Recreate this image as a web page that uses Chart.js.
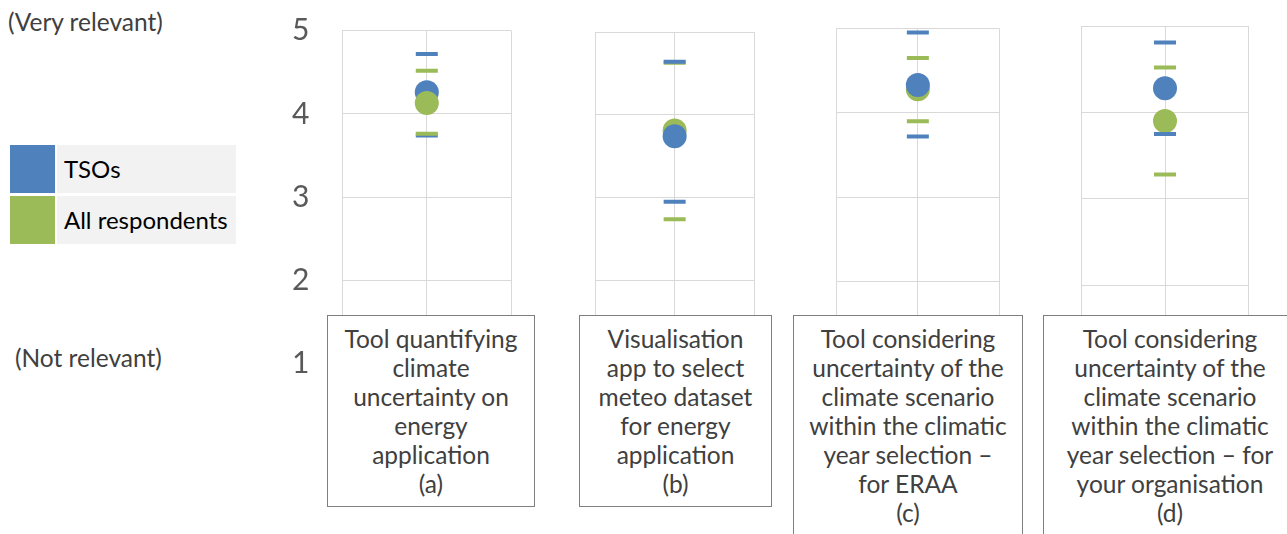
<!DOCTYPE html>
<html>
<head>
<meta charset="utf-8">
<script src="https://cdn.jsdelivr.net/npm/chart.js@4/dist/chart.umd.min.js"></script>
<style>
  html, body { margin: 0; padding: 0; background: #ffffff; }
  #stage { position: relative; width: 1287px; height: 534px; overflow: hidden; font-family: Lato, "Open Sans", sans-serif; }
  #stage canvas { position: absolute; left: 0; top: 0; }
  .side { position: absolute; color: #404040; font-size: 24.5px; line-height: 28px; white-space: nowrap; }
  .catbox { position: absolute; box-sizing: border-box; border: 1.5px solid #7f7f7f; background: #ffffff;
            color: #404040; font-size: 24.5px; line-height: 29px; text-align: center; padding-top: 8px; z-index: 5;
            white-space: nowrap; }
  .legend-row { position: absolute; left: 10px; width: 226px; height: 48px; }
  .legend-row .sw { position: absolute; left: 0; top: 0; width: 45px; height: 100%; }
  .legend-row .lbl { position: absolute; left: 47px; top: 0; right: 0; height: 100%; background: #f2f2f2;
                     color: #000000; font-size: 24px; line-height: 48px; padding-left: 7px; box-sizing: border-box; }
</style>
</head>
<body>
<div id="stage"></div>
<script>
// Survey scores (1 = not relevant, 5 = very relevant): mean with upper/lower bounds
const categories = [
  ['Tool quantifying', 'climate', 'uncertainty on', 'energy', 'application', '(a)'],
  ['Visualisation', 'app to select', 'meteo dataset', 'for energy', 'application', '(b)'],
  ['Tool considering', 'uncertainty of the', 'climate scenario', 'within the climatic', 'year selection \u2013', 'for ERAA', '(c)'],
  ['Tool considering', 'uncertainty of the', 'climate scenario', 'within the climatic', 'year selection \u2013 for', 'your organisation', '(d)']
];
const seriesNames = ['TSOs', 'All respondents'];
const tsoMean = [4.26, 3.74, 4.33, 4.28];
const tsoHigh = [4.72, 4.64, 4.95, 4.81];
const tsoLow  = [3.74, 2.95, 3.72, 3.75];
const allMean = [4.13, 3.81, 4.28, 3.90];
const allHigh = [4.52, 4.63, 4.65, 4.52];
const allLow  = [3.76, 2.74, 3.90, 3.28];
const yTicks = [1, 2, 3, 4, 5];
const sideLabels = ['(Very relevant)', '(Not relevant)'];

// Layout of each small panel (plot frame in page pixels) and its caption box
const W = 1287, H = 534;
const frames = [
  { left: 342.3, right: 511.3, top: 30.7, bottom: 363.5 },
  { left: 595.3, right: 754.0, top: 32.0, bottom: 363.2 },
  { left: 836.7, right: 999.0, top: 28.3, bottom: 366.3 },
  { left: 1081.7, right: 1248.3, top: 26.0, bottom: 371.6 }
];
const boxes = [
  { left: 327.3, top: 315.3, width: 207.4, height: 191.4 },
  { left: 579.3, top: 315.3, width: 192.4, height: 191.4 },
  { left: 792.7, top: 315.3, width: 230.6, height: 240 },
  { left: 1043.3, top: 315.3, width: 253.4, height: 240 }
];
// which series is painted on top in each panel
const topSeries = [1, 0, 0, 0];

const BLUE = '#4f81bd', GREEN = '#9bbb59', GRID = '#d9d9d9';
const stage = document.getElementById('stage');

sideLabels.forEach((t, i) => {
  const d = document.createElement('div');
  d.className = 'side';
  d.textContent = t;
  d.style.left = (i === 0 ? 8 : 15) + 'px';
  d.style.top = (i === 0 ? 8 : 344) + 'px';
  stage.appendChild(d);
});

[BLUE, GREEN].forEach((c, i) => {
  const row = document.createElement('div');
  row.className = 'legend-row';
  row.style.top = (145 + i * 51) + 'px';
  row.innerHTML = '<div class="sw"></div><div class="lbl"></div>';
  row.querySelector('.sw').style.background = c;
  row.querySelector('.lbl').textContent = seriesNames[i];
  stage.appendChild(row);
});

function meanSet(label, v, color, order) {
  return { label, data: [{ x: 1, y: v }], order, pointStyle: 'circle', pointRadius: 12,
           backgroundColor: color, borderColor: color, borderWidth: 0, showLine: false };
}
function boundSet(label, v, color, order) {
  return { label, data: [{ x: 1, y: v }], order, pointStyle: 'line', pointRadius: 11, pointRotation: 0,
           backgroundColor: color, borderColor: color, borderWidth: 4, showLine: false };
}

frames.forEach((f, i) => {
  const canvas = document.createElement('canvas');
  canvas.width = W; canvas.height = H;
  canvas.style.width = W + 'px'; canvas.style.height = H + 'px';
  stage.appendChild(canvas);
  const withTicks = i === 0;
  const axisW = withTicks ? 62.3 : 0;
  const oT = topSeries[i] === 0 ? 0 : 10;   // lower order is drawn last (on top)
  const oA = topSeries[i] === 1 ? 0 : 10;
  new Chart(canvas, {
    type: 'scatter',
    data: {
      datasets: [
        meanSet(seriesNames[0], tsoMean[i], BLUE, oT),
        boundSet(seriesNames[0] + ' high', tsoHigh[i], BLUE, oT + 1),
        boundSet(seriesNames[0] + ' low', tsoLow[i], BLUE, oT + 1),
        meanSet(seriesNames[1], allMean[i], GREEN, oA),
        boundSet(seriesNames[1] + ' high', allHigh[i], GREEN, oA + 1),
        boundSet(seriesNames[1] + ' low', allLow[i], GREEN, oA + 1)
      ]
    },
    options: {
      responsive: false,
      animation: false,
      devicePixelRatio: 1,
      layout: { padding: { left: f.left - axisW, right: W - f.right, top: f.top, bottom: H - f.bottom } },
      plugins: { legend: { display: false }, tooltip: { enabled: false } },
      scales: {
        x: {
          type: 'linear', min: 0, max: 2,
          ticks: { display: false, stepSize: 1 },
          grid: { color: GRID, lineWidth: 1, drawTicks: false },
          border: { display: false }
        },
        y: {
          type: 'linear', min: yTicks[0], max: yTicks[yTicks.length - 1],
          afterFit: (s) => { s.width = axisW; s.paddingTop = 0; s.paddingBottom = 0; },
          afterBuildTicks: (s) => { s.ticks = yTicks.map(v => ({ value: v })); },
          ticks: { display: withTicks, padding: 33, color: '#595959',
                   font: { family: 'Lato', size: 30 } },
          grid: { color: GRID, lineWidth: 1, drawTicks: false },
          border: { display: true, color: GRID }
        }
      }
    }
  });
});

categories.forEach((lines, i) => {
  const b = boxes[i];
  const d = document.createElement('div');
  d.className = 'catbox';
  d.style.left = b.left + 'px';
  d.style.top = b.top + 'px';
  d.style.width = b.width + 'px';
  d.style.height = b.height + 'px';
  d.innerHTML = lines.map(l => '<div>' + l + '</div>').join('');
  stage.appendChild(d);
});
</script>
</body>
</html>
